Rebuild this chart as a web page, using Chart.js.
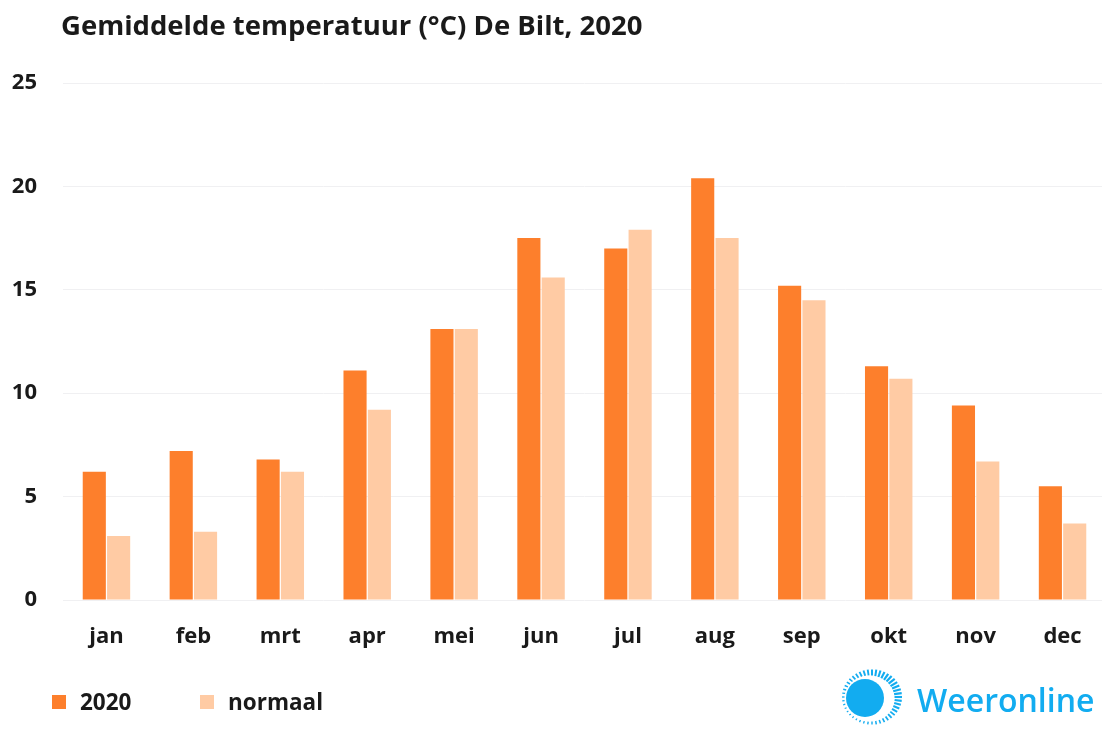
<!DOCTYPE html>
<html>
<head>
<meta charset="utf-8">
<script src="https://cdn.jsdelivr.net/npm/chart.js@4.4.1/dist/chart.umd.min.js"></script>
<style>
  html, body { margin: 0; padding: 0; background: #fff; overflow: hidden; }
  #wrap { position: relative; width: 1102px; height: 729px; overflow: hidden; font-family: "Open Sans", sans-serif; }
  #cv { position: absolute; left: 0; top: 0; }
  #title { position: absolute; left: 61px; top: 6px; font-size: 27.5px; font-weight: 700; color: #1a1a1a; white-space: nowrap; }
  .leg { position: absolute; top: 686px; font-size: 22.5px; font-weight: 700; color: #1a1a1a; white-space: nowrap; }
  .sw { position: absolute; top: 695px; width: 14px; height: 14px; }
  #logo { position: absolute; left: 836px; top: 660px; }
  #brand { position: absolute; left: 917px; top: 678px; font-size: 32px; font-weight: 600; color: #12acf0; white-space: nowrap; }
</style>
</head>
<body>
<div id="wrap">
  <canvas id="cv" width="1110" height="729" style="width:1110px;height:729px"></canvas>
  <div id="title">Gemiddelde temperatuur (°C) De Bilt, 2020</div>
  <div class="sw" style="left:52px;background:#FD7F2C"></div>
  <div class="leg" style="left:80px">2020</div>
  <div class="sw" style="left:200px;background:#FFCBA4"></div>
  <div class="leg" style="left:228px">normaal</div>
  <svg id="logo" width="72" height="72" viewBox="0 0 72 72">
    <circle cx="29" cy="38" r="19" fill="#12acf0"/>
    <g id="rays"></g>
  </svg>
  <div id="brand">Weeronline</div>
</div>
<script>
const months = ['jan','feb','mrt','apr','mei','jun','jul','aug','sep','okt','nov','dec'];
const temp2020 = [6.2, 7.2, 6.8, 11.1, 13.1, 17.5, 17.0, 20.4, 15.2, 11.3, 9.4, 5.5];
const tempNormaal = [3.1, 3.3, 6.2, 9.2, 13.1, 15.6, 17.9, 17.5, 14.5, 10.7, 6.7, 3.7];
const yTicks = [0, 5, 10, 15, 20, 25];

// logo rays (crescent of short dashes around the disk)
(function(){
  const g = document.getElementById('rays');
  const cx = 36, cy = 37, r2 = 30;
  let s = '';
  for (let i = 0; i < 44; i++) {
    const a = (i / 44) * Math.PI * 2;
    const w = 0.5 + 0.5 * Math.cos(a + 0.6);
    const r1 = r2 - (2 + 6 * w);
    const x1 = cx + Math.cos(a) * r1, y1 = cy + Math.sin(a) * r1 * 0.92;
    const x2 = cx + Math.cos(a) * r2, y2 = cy + Math.sin(a) * r2 * 0.92;
    s += `<line x1="${x1.toFixed(1)}" y1="${y1.toFixed(1)}" x2="${x2.toFixed(1)}" y2="${y2.toFixed(1)}" stroke="#12acf0" stroke-width="${(1.2 + w).toFixed(1)}"/>`;
  }
  g.innerHTML = s;
})();

const font = { family: '"Open Sans", sans-serif', size: 22, weight: '700' };
new Chart(document.getElementById('cv'), {
  type: 'bar',
  data: {
    labels: months,
    datasets: [
      { label: '2020', data: temp2020, backgroundColor: '#FD7F2C', categoryPercentage: 0.56, barPercentage: 0.95 },
      { label: 'normaal', data: tempNormaal, backgroundColor: '#FFCBA4', categoryPercentage: 0.56, barPercentage: 0.95 }
    ]
  },
  options: {
    responsive: false,
    animation: false,
    layout: { padding: { top: 83, left: 0, right: 4, bottom: 0 } },
    plugins: { legend: { display: false }, title: { display: false }, tooltip: { enabled: false } },
    scales: {
      x: {
        grid: { display: false },
        border: { display: false },
        ticks: { color: '#1a1a1a', font: font, padding: 16 },
        afterFit: s => { s.height = 129; }
      },
      y: {
        min: 0, max: 25,
        afterBuildTicks: s => { s.ticks = yTicks.map(v => ({ value: v })); },
        grid: { color: '#f0f0f2', lineWidth: 1, drawTicks: false },
        border: { display: false },
        ticks: { color: '#1a1a1a', font: font, padding: 26 },
        afterFit: s => { s.width = 63; }
      }
    }
  }
});
</script>
</body>
</html>
